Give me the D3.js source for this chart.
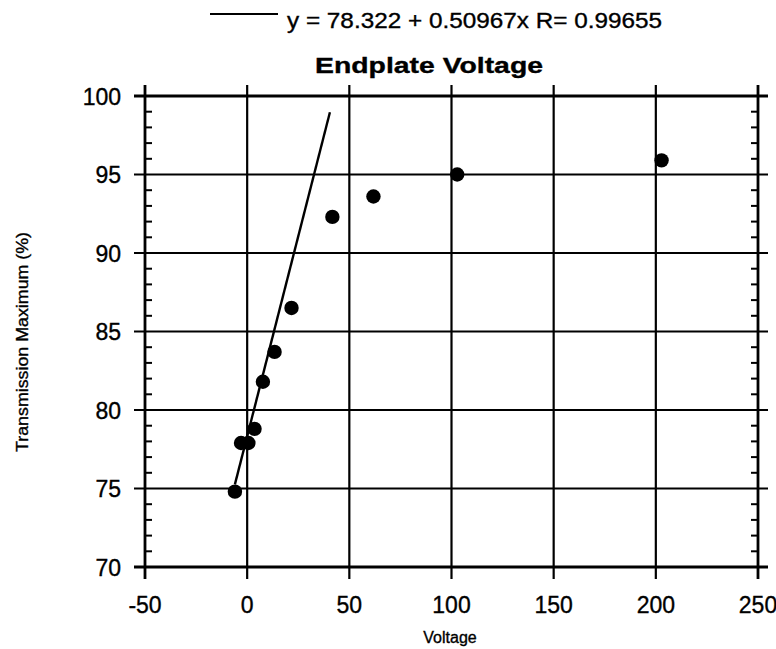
<!DOCTYPE html>
<html>
<head>
<meta charset="utf-8">
<script src="https://cdn.jsdelivr.net/npm/d3@7"></script>
<style>
  html, body { margin: 0; padding: 0; background: #fff; }
  text { font-family: "Liberation Sans", Arial, sans-serif; fill: #000; stroke: #000; stroke-width: 0.35px; }
</style>
</head>
<body>
<svg id="chart" width="776" height="649"></svg>
<script>
// ---- data ----
const voltage      = [-6, -3, 0.6, 3.6, 7.7, 13.4, 21.7, 41.7, 61.8, 102.8, 202.8];
const transmission = [74.8, 77.9, 77.9, 78.8, 81.8, 83.7, 86.5, 92.3, 93.6, 95.0, 95.9];
const fitIntercept = 78.322;
const fitSlope     = 0.50967;
const fitRange     = [-6, 40.5];
const xTicks = [-50, 0, 50, 100, 150, 200, 250];
const yTicks = [70, 75, 80, 85, 90, 95, 100];
const legendText = "y = 78.322 + 0.50967x R= 0.99655";
const titleText = "Endplate Voltage";
const xTitle = "Voltage";
const yTitle = "Transmission Maximum (%)";

// ---- layout ----
const svg = d3.select("#chart");
const L = 145, R = 758, T = 96, B = 567;
const x = d3.scaleLinear().domain([-50, 250]).range([L, R]);
const y = d3.scaleLinear().domain([70, 100]).range([B, T]);

// grid lines (extend beyond frame as major ticks)
svg.append("g").selectAll("line").data(yTicks).join("line")
  .attr("x1", L - 11).attr("x2", R + 10)
  .attr("y1", d => y(d)).attr("y2", d => y(d))
  .attr("stroke", "#000").attr("stroke-width", d => (d === 70 || d === 100) ? 2.8 : 2.2);
svg.append("g").selectAll("line").data(xTicks).join("line")
  .attr("y1", T - 11).attr("y2", B + 12)
  .attr("x1", d => x(d)).attr("x2", d => x(d))
  .attr("stroke", "#000").attr("stroke-width", d => (d === -50 || d === 250) ? 2.8 : 2.2);

// minor ticks on left and right (inward)
const minor = d3.range(70, 100.001, 1).filter(v => v % 5 !== 0);
svg.append("g").selectAll("line").data(minor).join("line")
  .attr("x1", L).attr("x2", L + 7)
  .attr("y1", d => y(d)).attr("y2", d => y(d))
  .attr("stroke", "#000").attr("stroke-width", 2);
svg.append("g").selectAll("line").data(minor).join("line")
  .attr("x1", R - 7).attr("x2", R)
  .attr("y1", d => y(d)).attr("y2", d => y(d))
  .attr("stroke", "#000").attr("stroke-width", 2);

// tick labels
svg.append("g").selectAll("text").data(yTicks).join("text")
  .attr("x", 121).attr("y", d => y(d) + 8.5)
  .attr("text-anchor", "end").attr("font-size", 23)
  .text(d => d);
svg.append("g").selectAll("text").data(xTicks).join("text")
  .attr("x", d => x(d)).attr("y", 613)
  .attr("text-anchor", "middle").attr("font-size", 23)
  .text(d => d);

// fit line
const fitPts = fitRange.map(v => [v, fitIntercept + fitSlope * v]);
svg.append("path")
  .attr("d", d3.line().x(d => x(d[0])).y(d => y(d[1]))(fitPts))
  .attr("stroke", "#000").attr("stroke-width", 2.4).attr("fill", "none");

// points
svg.append("g").selectAll("circle").data(voltage.map((v, i) => [v, transmission[i]])).join("circle")
  .attr("cx", d => x(d[0])).attr("cy", d => y(d[1])).attr("r", 7.2)
  .attr("fill", "#000");

// legend
svg.append("line").attr("x1", 210).attr("x2", 278).attr("y1", 14).attr("y2", 14)
  .attr("stroke", "#000").attr("stroke-width", 1.8);
svg.append("text").attr("x", 287).attr("y", 28).attr("font-size", 22)
  .attr("textLength", 375).attr("lengthAdjust", "spacingAndGlyphs")
  .text(legendText);

// title
svg.append("text").attr("x", 315).attr("y", 73).attr("font-size", 22)
  .attr("font-weight", "bold")
  .attr("textLength", 228).attr("lengthAdjust", "spacingAndGlyphs")
  .text(titleText);

// axis titles
svg.append("text").attr("x", 450).attr("y", 643).attr("font-size", 16)
  .attr("text-anchor", "middle").text(xTitle);
svg.append("text")
  .attr("transform", "translate(28,342) rotate(-90)")
  .attr("text-anchor", "middle").attr("font-size", 16)
  .attr("textLength", 220).attr("lengthAdjust", "spacingAndGlyphs")
  .text(yTitle);
</script>
</body>
</html>
